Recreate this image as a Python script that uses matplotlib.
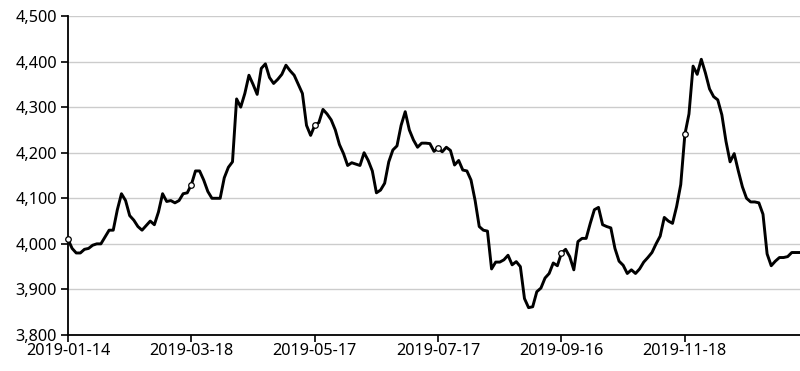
import matplotlib
matplotlib.use("Agg")
import matplotlib.pyplot as plt
from matplotlib.ticker import FuncFormatter, FixedLocator

plt.rcParams["font.family"] = ["Noto Sans", "DejaVu Sans"]

# ---- data ----
tick_labels = ["2019-01-14", "2019-03-18", "2019-05-17", "2019-07-17", "2019-09-16", "2019-11-18"]
points_per_tick = 30

values = [
    4010, 3990, 3980, 3980, 3988, 3990, 3997, 4000, 4000, 4015,
    4030, 4030, 4075, 4110, 4095, 4062, 4052, 4038, 4030, 4040,
    4050, 4042, 4070, 4110, 4093, 4095, 4090, 4095, 4110, 4112,
    4130, 4160, 4160, 4140, 4115, 4100, 4100, 4100, 4145, 4168,
    4180, 4318, 4300, 4330, 4370, 4350, 4328, 4385, 4395, 4365,
    4352, 4361, 4372, 4392, 4380, 4370, 4350, 4330, 4260, 4238,
    4260, 4266, 4295, 4285, 4272, 4250, 4218, 4198, 4172, 4178,
    4175, 4172, 4200, 4183, 4160, 4112, 4118, 4133, 4180, 4206,
    4215, 4260, 4290, 4250, 4228, 4212, 4221, 4221, 4220, 4203,
    4210, 4202, 4212, 4205, 4173, 4183, 4162, 4160, 4140, 4095,
    4038, 4030, 4028, 3945, 3960, 3960, 3965, 3975, 3954, 3961,
    3950, 3880, 3860, 3862, 3895, 3903, 3925, 3935, 3958, 3952,
    3980, 3988, 3972, 3943, 4005, 4012, 4012, 4045, 4075, 4080,
    4042, 4038, 4035, 3990, 3962, 3953, 3935, 3943, 3935, 3945,
    3960, 3970, 3981, 4000, 4017, 4058, 4050, 4045, 4082, 4130,
    4240, 4285, 4390, 4372, 4405, 4375, 4340, 4323, 4316, 4283,
    4225, 4180, 4198, 4160, 4125, 4100, 4092, 4092, 4090, 4065,
    3978, 3952, 3962, 3970, 3970, 3972, 3981, 3981, 3981,
]
y_ticks = [3800, 3900, 4000, 4100, 4200, 4300, 4400, 4500]

# ---- figure ----
W, H = 800, 371
fig = plt.figure(figsize=(W / 100, H / 100), dpi=100)
ax = fig.add_axes([68 / W, (H - 335) / H, (800 - 68) / W, (335 - 16) / H])

x = list(range(len(values)))
ax.plot(x, values, color="black", lw=2.1, solid_joinstyle="round",
        solid_capstyle="round", zorder=3, clip_on=False)

tick_idx = [i * points_per_tick for i in range(len(tick_labels))]
ax.plot(tick_idx, [values[i] for i in tick_idx], linestyle="none", marker="o",
        markersize=4, markerfacecolor="white", markeredgecolor="black",
        markeredgewidth=0.9, zorder=4, clip_on=False)

ax.set_xlim(0, len(values) - 1)
ax.set_ylim(3800, 4500)
ax.xaxis.set_major_locator(FixedLocator(tick_idx))
ax.set_xticklabels(tick_labels)
ax.set_yticks(y_ticks)
ax.yaxis.set_major_formatter(FuncFormatter(lambda v, p: f"{int(v):,}"))

ax.grid(axis="y", color="#cccccc", lw=1.0, zorder=0)
ax.set_axisbelow(True)
for s in ["top", "right"]:
    ax.spines[s].set_visible(False)
for s in ["left", "bottom"]:
    ax.spines[s].set_color("black")
    ax.spines[s].set_linewidth(1.3)

ax.tick_params(axis="both", direction="out", length=5, width=1.2, color="black",
               labelsize=11.7, labelcolor="black")
ax.tick_params(axis="y", pad=3)
ax.tick_params(axis="x", pad=1)

fig.savefig("out.png", dpi=100)
